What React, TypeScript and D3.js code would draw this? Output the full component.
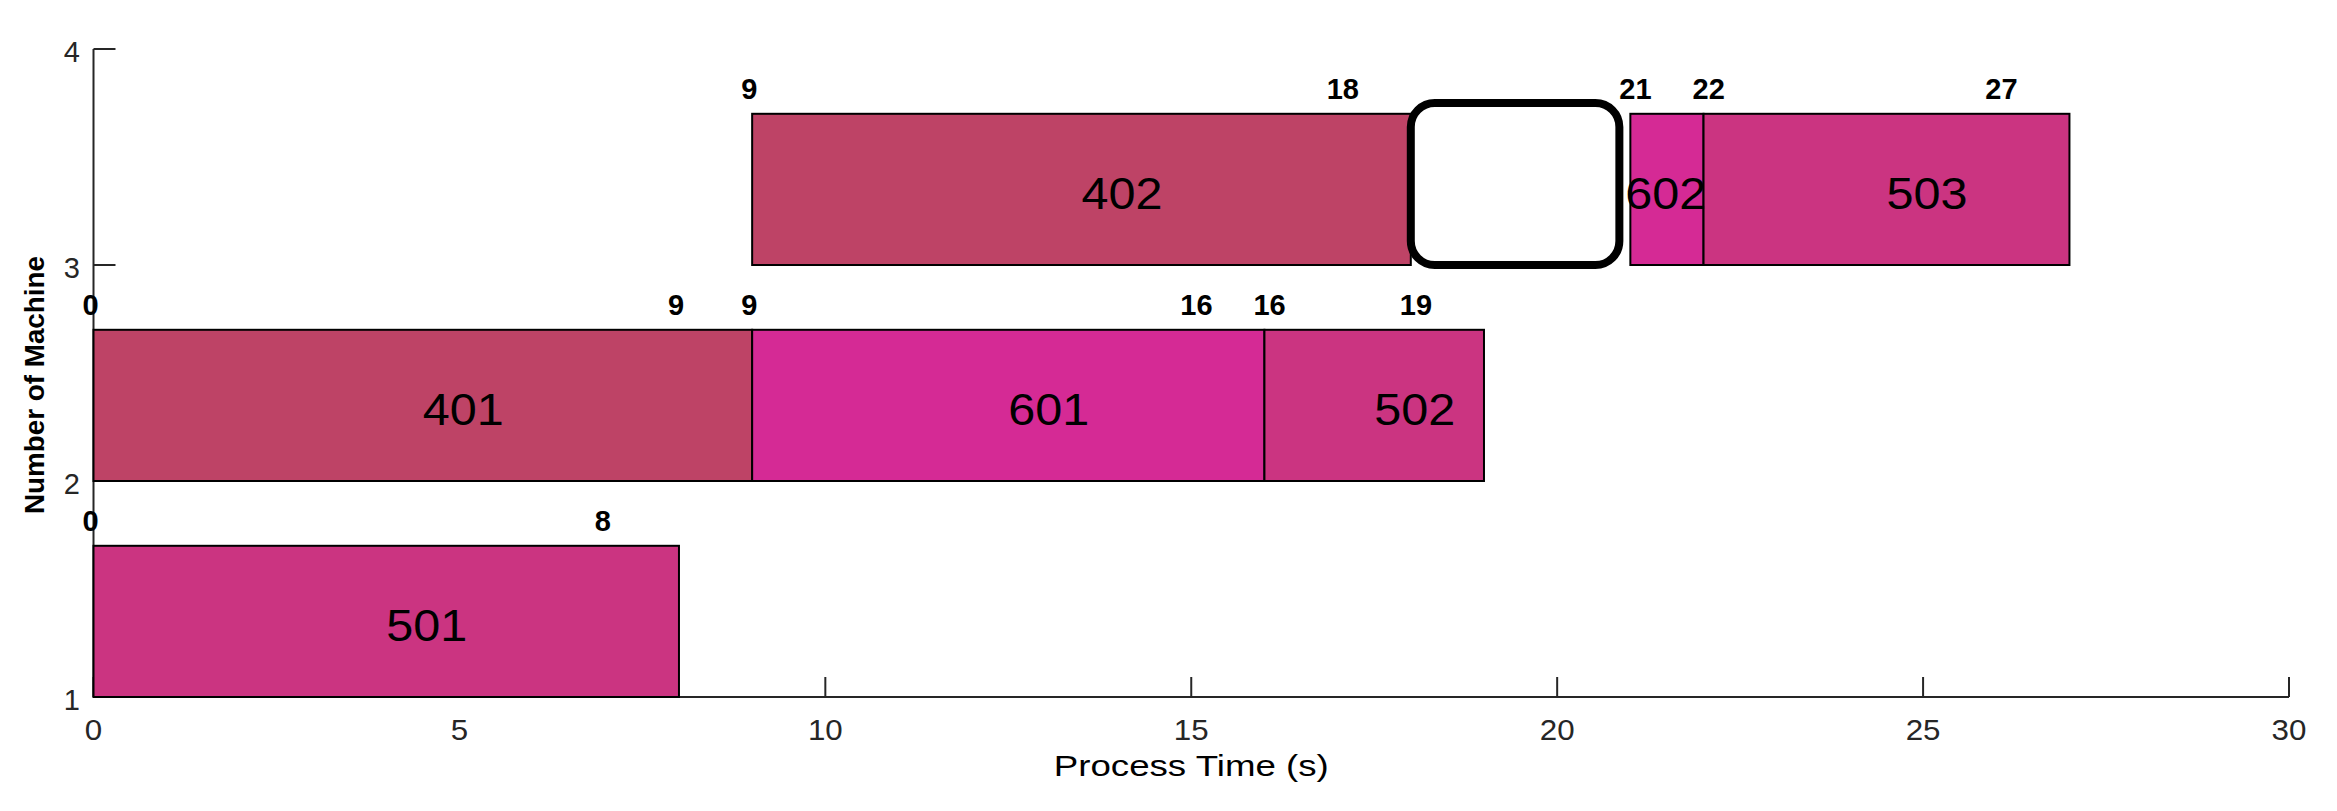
import React from "react";
import * as d3 from "d3";

// ---- data ----
const taskIds = ["501", "401", "601", "502", "402", "602", "503"];
const taskMachine = [1, 2, 2, 2, 3, 3, 3];
const taskStart = [0, 0, 9, 16, 9, 21, 22];
const taskEnd = [8, 9, 16, 19, 18, 22, 27];
const taskJob = [5, 4, 6, 5, 4, 6, 5];
const showEndLabel = [true, true, true, true, true, false, true];
const jobColors: Record<number, string> = { 4: "#BE4366", 5: "#CB3481", 6: "#D52A95" };

const xTicks = [0, 5, 10, 15, 20, 25, 30];
const yTicks = [1, 2, 3, 4];
const xDomain = [0, 30];
const yDomain = [1, 4];
const barHeight = 0.7;
const highlight = { x0: 18, x1: 20.85, y0: 3, y1: 3.75 };
const xLabel = "Process Time (s)";
const yLabel = "Number of Machine";

const W = 2337;
const H = 811;
const FONT = "'Liberation Sans', Arial, Helvetica, sans-serif";

export default function App() {
  const x = d3.scaleLinear().domain(xDomain).range([93.5, 2289]);
  const y = d3.scaleLinear().domain(yDomain).range([697, 49]);
  const unit = x(1) - x(0);
  const axisColor = "#262626";
  const barFs = 45;
  const barStretch = 1.08;
  const topFs = 29;

  const tasks = taskIds.map((id, i) => ({
    id,
    m: taskMachine[i],
    s: taskStart[i],
    e: taskEnd[i],
    job: taskJob[i],
    showEnd: showEndLabel[i],
  }));

  return (
    <svg
      width={W}
      height={H}
      style={{ position: "absolute", left: 0, top: 0, background: "#fff" }}
      fontFamily={FONT}
    >
      <rect x={0} y={0} width={W} height={H} fill="#fff" />
      {/* axes */}
      <line x1={x(xDomain[0])} x2={x(xDomain[1])} y1={y(yDomain[0])} y2={y(yDomain[0])} stroke={axisColor} strokeWidth={2} />
      <line x1={x(xDomain[0])} x2={x(xDomain[0])} y1={y(yDomain[0])} y2={y(yDomain[1])} stroke={axisColor} strokeWidth={2} />
      {xTicks.map((t) => (
        <g key={"xt" + t}>
          <line x1={x(t)} x2={x(t)} y1={y(yDomain[0])} y2={y(yDomain[0]) - 20} stroke={axisColor} strokeWidth={2} />
          <text x={x(t)} y={740} textAnchor="middle" fontSize={29} fill={axisColor}
            textLength={String(t).length * 0.556 * 29 * 1.08} lengthAdjust="spacingAndGlyphs">
            {t}
          </text>
        </g>
      ))}
      {yTicks.map((t) => (
        <g key={"yt" + t}>
          <line x1={x(xDomain[0])} x2={x(xDomain[0]) + 22} y1={y(t)} y2={y(t)} stroke={axisColor} strokeWidth={2} />
          <text x={80} y={y(t) + 13} textAnchor="end" fontSize={29} fill={axisColor}>
            {t}
          </text>
        </g>
      ))}
      <text x={x(15)} y={776} textAnchor="middle" fontSize={29} fill="#000" textLength={275} lengthAdjust="spacingAndGlyphs">
        {xLabel}
      </text>
      <text
        transform={`translate(44, 385) rotate(-90)`}
        textAnchor="middle"
        fontSize={28}
        fontWeight="bold"
        fill="#000"
        textLength={258}
        lengthAdjust="spacingAndGlyphs"
      >
        {yLabel}
      </text>

      {/* bars */}
      {tasks.map((t) => (
        <rect
          key={"b" + t.id}
          x={x(t.s)}
          y={y(t.m + barHeight)}
          width={x(t.e) - x(t.s)}
          height={y(t.m) - y(t.m + barHeight)}
          fill={jobColors[t.job]}
          stroke="#000"
          strokeWidth={2}
        />
      ))}
      {/* bar labels */}
      {tasks.map((t) => {
        const mid = (t.s + t.e) / 2;
        const w = x(t.e) - x(t.s);
        const labelW = t.id.length * 0.556 * barFs * barStretch;
        const center = labelW > w;
        return (
          <text
            key={"l" + t.id}
            x={center ? x(t.s) - 0.07 * unit : x(mid)}
            y={y(t.m + barHeight / 2) + 19.5}
            textAnchor="start"
            fontSize={barFs}
            fill="#000"
            textLength={labelW}
            lengthAdjust="spacingAndGlyphs"
          >
            {t.id}
          </text>
        );
      })}
      {/* start / end labels */}
      {tasks.map((t) => (
        <g key={"se" + t.id}>
          <text x={x(t.s) - 0.15 * unit} y={y(t.m + barHeight) - 15} fontSize={topFs} fontWeight="bold" fill="#000">
            {t.s}
          </text>
          {t.showEnd && (
            <text x={x(t.e) - 1.15 * unit} y={y(t.m + barHeight) - 15} fontSize={topFs} fontWeight="bold" fill="#000">
              {t.e}
            </text>
          )}
        </g>
      ))}
      {/* highlight */}
      <rect
        x={x(highlight.x0)}
        y={y(highlight.y1)}
        width={x(highlight.x1) - x(highlight.x0)}
        height={y(highlight.y0) - y(highlight.y1)}
        rx={24}
        ry={24}
        fill="#fff"
        stroke="#000"
        strokeWidth={8}
      />
    </svg>
  );
}
